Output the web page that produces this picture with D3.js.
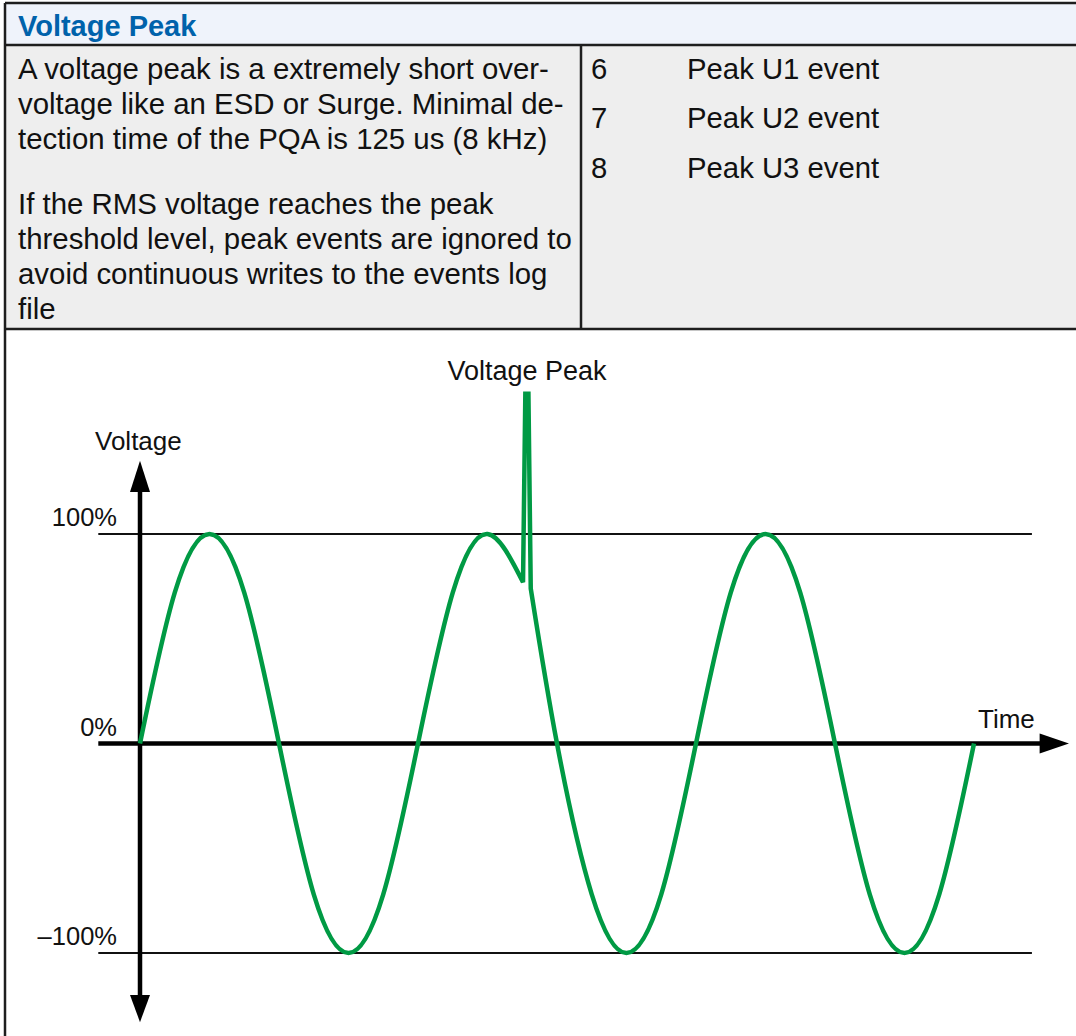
<!DOCTYPE html>
<html>
<head>
<meta charset="utf-8">
<script src="https://cdn.jsdelivr.net/npm/d3@7"></script>
<style>
  html, body { margin: 0; padding: 0; background: #fff; }
  svg { display: block; }
  text { font-family: "Liberation Sans", Arial, Helvetica, sans-serif; }
</style>
</head>
<body>
<svg id="chart" width="1076" height="1036"></svg>
<script>
// ---------- Data ----------
const title = "Voltage Peak";
const descriptionLines = [
  "A voltage peak is a extremely short over-",
  "voltage like an ESD or Surge. Minimal de-",
  "tection time of the PQA is 125 us (8 kHz)",
  "",
  "If the RMS voltage reaches the peak",
  "threshold level, peak events are ignored to",
  "avoid continuous writes to the events log",
  "file"
];
const eventCodes = ["6", "7", "8"];
const eventNames = ["Peak U1 event", "Peak U2 event", "Peak U3 event"];

const yTickValues = [100, 0, -100];
const yTickLabels = ["100%", "0%", "\u2013100%"];
const xAxisLabel = "Time";
const yAxisLabel = "Voltage";
const peakLabel = "Voltage Peak";

// waveform: phase in degrees, voltage in %
// part before the peak, the peak itself, and the part after it
const wavePhaseBefore = [0, 45, 90, 135, 180, 225, 270, 315, 360, 405, 450, 496];
const waveVoltBefore  = [0, 72, 100, 72, 0, -72, -100, -72, 0, 72, 100, 77];
const wavePhaseSpike  = [496, 499, 503, 506];
const waveVoltSpike   = [77, 167, 167, 74];
const wavePhaseAfter  = [506, 540, 585, 630, 675, 720, 765, 810, 855, 900, 945, 990, 1035, 1080];
const waveVoltAfter   = [74, 0, -72, -100, -72, 0, 72, 100, 72, 0, -72, -100, -72, 0];

// ---------- Drawing ----------
const svg = d3.select("#chart");
const W = 1076, H = 1036;
const border = "#1e1e1e";

// table backgrounds
svg.append("rect").attr("x", 5).attr("y", 3).attr("width", W - 5).attr("height", 42).attr("fill", "#eff3fb");
svg.append("rect").attr("x", 5).attr("y", 45).attr("width", W - 5).attr("height", 284).attr("fill", "#eeeeee");

// borders
const lines = [
  [5, 3, W, 3],
  [5, 45, W, 45],
  [5, 329, W, 329],
  [5, 3, 5, H],
  [581, 45, 581, 329]
];
svg.selectAll("line.border").data(lines).enter().append("line")
  .attr("class", "border")
  .attr("x1", d => d[0]).attr("y1", d => d[1]).attr("x2", d => d[2]).attr("y2", d => d[3])
  .attr("stroke", border).attr("stroke-width", 2.5);

// title
svg.append("text").attr("x", 18).attr("y", 36).attr("font-size", 29).attr("font-weight", "bold")
  .attr("fill", "#0062ab").text(title);

// description
const descBaselines = [79, 114, 149, 181, 214, 249, 284, 319];
svg.selectAll("text.desc").data(descriptionLines).enter().append("text")
  .attr("class", "desc").attr("x", 18).attr("y", (d, i) => descBaselines[i])
  .attr("font-size", 29.4).attr("fill", "#111").text(d => d);

const evBaselines = [79, 128, 178];
svg.selectAll("text.code").data(eventCodes).enter().append("text")
  .attr("class", "code").attr("x", 591).attr("y", (d, i) => evBaselines[i])
  .attr("font-size", 29.3).attr("fill", "#111").text(d => d);
svg.selectAll("text.ename").data(eventNames).enter().append("text")
  .attr("class", "ename").attr("x", 687).attr("y", (d, i) => evBaselines[i])
  .attr("font-size", 29.3).attr("fill", "#111").text(d => d);

// scales
const x = d3.scaleLinear().domain([0, 1080]).range([140, 974]);
const y = d3.scaleLinear().domain([-100, 100]).range([953, 534]);

// reference lines 100% / -100%
[100, -100].forEach(v => {
  svg.append("line").attr("x1", x(-54)).attr("x2", x(1155)).attr("y1", y(v)).attr("y2", y(v))
    .attr("stroke", "#111").attr("stroke-width", 2);
});

// time axis (0%)
svg.append("line").attr("x1", x(-54)).attr("x2", x(1170)).attr("y1", y(0)).attr("y2", y(0))
  .attr("stroke", "#000").attr("stroke-width", 4.5);
svg.append("path")
  .attr("d", `M${x(1165)},${y(0) - 10} L${x(1203)},${y(0)} L${x(1165)},${y(0) + 10} Z`)
  .attr("fill", "#000");

// voltage axis
svg.append("line").attr("x1", x(0)).attr("x2", x(0)).attr("y1", y(122)).attr("y2", y(-120))
  .attr("stroke", "#000").attr("stroke-width", 4.5);
svg.append("path")
  .attr("d", `M${x(0) - 10},${y(120)} L${x(0)},${y(135)} L${x(0) + 10},${y(120)} Z`).attr("fill", "#000");
svg.append("path")
  .attr("d", `M${x(0) - 10},${y(-120)} L${x(0)},${y(-133)} L${x(0) + 10},${y(-120)} Z`).attr("fill", "#000");

// tick labels
svg.selectAll("text.ytick").data(yTickValues).enter().append("text")
  .attr("class", "ytick").attr("x", 117).attr("y", d => y(d) - 8)
  .attr("text-anchor", "end").attr("font-size", 25.5).attr("fill", "#111")
  .text((d, i) => yTickLabels[i]);

svg.append("text").attr("x", 95).attr("y", 450).attr("font-size", 26).attr("fill", "#111").text(yAxisLabel);
svg.append("text").attr("x", 978).attr("y", 728).attr("font-size", 26).attr("fill", "#111").text(xAxisLabel);
svg.append("text").attr("x", 527).attr("y", 380).attr("text-anchor", "middle").attr("font-size", 27).attr("fill", "#111").text(peakLabel);

// waveform
const toPts = (ph, vo) => ph.map((p, i) => ({ p, v: vo[i] }));
const smooth = d3.line().x(d => x(d.p)).y(d => y(d.v)).curve(d3.curveNatural);
const straight = d3.line().x(d => x(d.p)).y(d => y(d.v));
const dBefore = smooth(toPts(wavePhaseBefore, waveVoltBefore));
const dSpike = straight(toPts(wavePhaseSpike, waveVoltSpike)).replace(/^M[^L]*/, "");
const dAfter = smooth(toPts(wavePhaseAfter, waveVoltAfter)).replace(/^M[^CL]*/, "");
svg.append("path").attr("d", dBefore + dSpike + dAfter)
  .attr("fill", "none").attr("stroke", "#009a44").attr("stroke-width", 4.5)
  .attr("stroke-linejoin", "miter").attr("stroke-linecap", "butt");
</script>
</body>
</html>
